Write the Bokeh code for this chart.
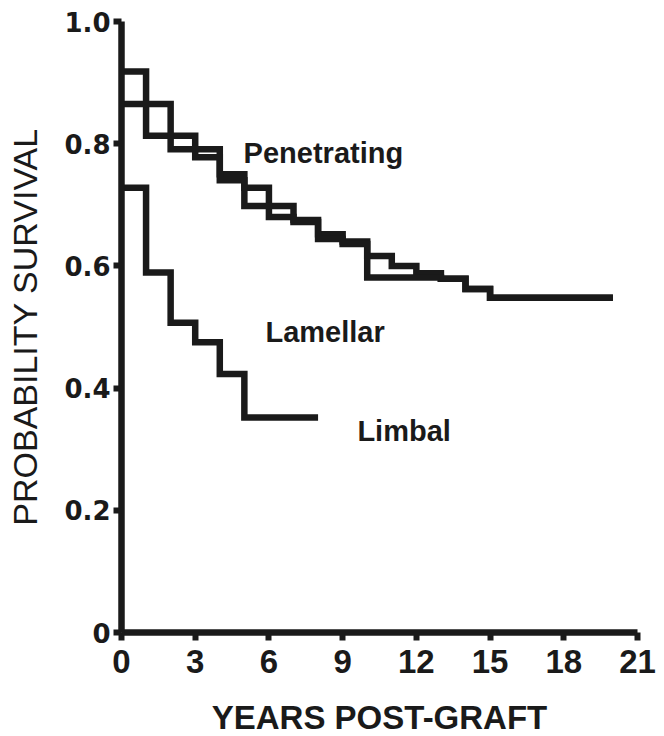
from bokeh.plotting import figure
from bokeh.models import Range1d, FixedTicker, Label, CustomJSTickFormatter
from bokeh.embed import file_html
from bokeh.resources import INLINE

# ---- data (years post-graft vs probability of survival) ----
years_a = [0, 1, 3, 4, 5, 6, 7, 8, 9, 10, 11, 12, 13, 14, 15, 20]
surv_a = [0.918, 0.813, 0.778, 0.750, 0.728, 0.680, 0.675, 0.652, 0.640, 0.616,
          0.600, 0.588, 0.579, 0.562, 0.548, 0.548]

years_b = [0, 2, 4, 5, 7, 8, 9, 10, 13, 14, 15, 20]
surv_b = [0.865, 0.791, 0.740, 0.698, 0.672, 0.644, 0.636, 0.581, 0.579, 0.562,
          0.548, 0.548]

years_limbal = [0, 1, 2, 3, 4, 5, 8]
surv_limbal = [0.728, 0.589, 0.507, 0.475, 0.423, 0.352, 0.352]

x_ticks = [0, 3, 6, 9, 12, 15, 18, 21]
y_ticks = [0, 0.2, 0.4, 0.6, 0.8, 1.0]

INK = "#1a1a1a"

p = figure(width=656, height=734, output_backend="svg", toolbar_location=None,
           x_range=Range1d(0, 21), y_range=Range1d(0, 1.0),
           min_border_left=121, min_border_right=19, min_border_top=21, min_border_bottom=102)
p.frame_width = 516
p.frame_height = 611
p.outline_line_color = None
p.xgrid.visible = False
p.ygrid.visible = False
p.background_fill_color = "white"
p.border_fill_color = "white"

for xs, ys in [(years_a, surv_a), (years_b, surv_b), (years_limbal, surv_limbal)]:
    p.step(xs, ys, mode="after", line_color=INK, line_width=6.5, line_join="miter")

# axes
p.xaxis.ticker = FixedTicker(ticks=x_ticks)
p.yaxis.ticker = FixedTicker(ticks=y_ticks)
p.yaxis.formatter = CustomJSTickFormatter(code="return tick == 0 ? '0' : tick.toFixed(1);")
p.xaxis.formatter = CustomJSTickFormatter(code="return tick.toFixed(0);")

for ax in (p.xaxis[0], p.yaxis[0]):
    ax.axis_line_color = INK
    ax.axis_line_width = 6.5
    ax.major_tick_line_color = INK
    ax.major_tick_line_width = 6
    ax.major_tick_in = 0
    ax.major_tick_out = 8
    ax.minor_tick_line_color = None
    ax.major_label_text_color = INK

p.xaxis.major_label_text_font = "Liberation Sans"
p.xaxis.major_label_text_font_style = "bold"
p.xaxis.major_label_text_font_size = "33px"
p.xaxis.major_label_standoff = 9
p.xaxis.axis_label = "YEARS POST-GRAFT"
p.xaxis.axis_label_text_font = "Liberation Sans"
p.xaxis.axis_label_text_font_style = "bold"
p.xaxis.axis_label_text_font_size = "33px"
p.xaxis.axis_label_text_color = INK
p.xaxis.axis_label_standoff = 23

p.yaxis.major_label_text_font = "DejaVu Sans"
p.yaxis.major_label_text_font_style = "bold"
p.yaxis.major_label_text_font_size = "26px"
p.yaxis.major_label_standoff = 3
p.yaxis.axis_label = "PROBABILITY SURVIVAL"
p.yaxis.axis_label_text_font = "Liberation Sans"
p.yaxis.axis_label_text_font_style = "normal"
p.yaxis.axis_label_text_font_size = "34px"
p.yaxis.axis_label_text_color = INK
p.yaxis.axis_label_standoff = 17

for txt, x, y in [("Penetrating", 4.97, 0.785), ("Lamellar", 5.86, 0.491), ("Limbal", 9.6, 0.33)]:
    p.add_layout(Label(x=x, y=y, text=txt, text_font="Liberation Sans", text_font_style="bold",
                       text_font_size="29px", text_color=INK, text_baseline="alphabetic"))

open("out.html", "w").write(file_html(p, INLINE))
